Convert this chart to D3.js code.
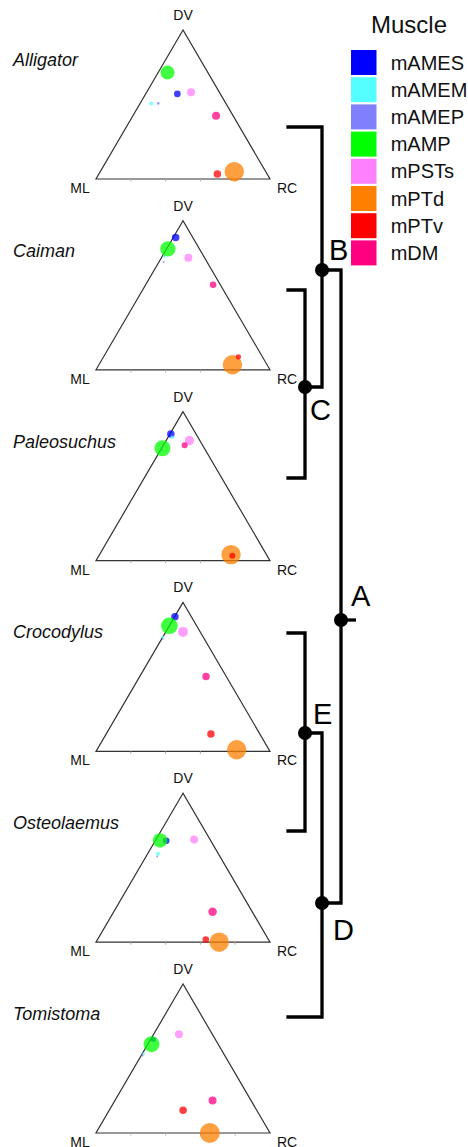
<!DOCTYPE html>
<html>
<head>
<meta charset="utf-8">
<script src="https://cdn.jsdelivr.net/npm/d3@7"></script>
<style>
  html, body { margin: 0; padding: 0; background: #fff; }
  svg { display: block; font-family: "Liberation Sans", Arial, sans-serif; }
</style>
</head>
<body>
<svg id="chart" width="468" height="1147"></svg>
<script>
// ---- Data ---------------------------------------------------------------
const species = ["Alligator", "Caiman", "Paleosuchus", "Crocodylus", "Osteolaemus", "Tomistoma"];
const muscles = ["mAMES", "mAMEM", "mAMEP", "mAMP", "mPSTs", "mPTd", "mPTv", "mDM"];
const axisNames = ["DV", "ML", "RC"];

// Share of each muscle's orientation along the dorsoventral axis (per species, muscle order)
const dvShare = [
  [0.571, 0.507, 0.507, 0.714, 0.583, 0.049, 0.033, 0.424],
  [0.888, 0.761, 0.723, 0.812, 0.752, 0.034, 0.087, 0.570],
  [0.850, 0.828, 0.740, 0.754, 0.806, 0.040, 0.033, 0.775],
  [0.903, 0.766, 0.755, 0.843, 0.802, 0.011, 0.117, 0.503],
  [0.681, 0.593, 0.575, 0.683, 0.690, 0.000, 0.018, 0.204],
  [0.629, 0.533, 0.520, 0.596, 0.663, 0.000, 0.153, 0.218]
];
// ... along the mediolateral axis
const mlShare = [
  [0.247, 0.429, 0.389, 0.232, 0.162, 0.181, 0.286, 0.098],
  [0.098, 0.227, 0.250, 0.181, 0.093, 0.199, 0.138, 0.042],
  [0.145, 0.148, 0.250, 0.241, 0.060, 0.204, 0.200, 0.103],
  [0.095, 0.233, 0.240, 0.157, 0.099, 0.186, 0.281, 0.116],
  [0.256, 0.348, 0.361, 0.290, 0.091, 0.292, 0.360, 0.228],
  [0.356, 0.459, 0.472, 0.383, 0.192, 0.346, 0.423, 0.221]
];
// ... along the rostrocaudal axis
const rcShare = [
  [0.182, 0.064, 0.104, 0.054, 0.255, 0.770, 0.681, 0.478],
  [0.014, 0.012, 0.027, 0.007, 0.155, 0.767, 0.775, 0.388],
  [0.005, 0.024, 0.010, 0.005, 0.134, 0.756, 0.767, 0.122],
  [0.002, 0.001, 0.005, 0.000, 0.099, 0.803, 0.602, 0.381],
  [0.063, 0.059, 0.064, 0.027, 0.219, 0.708, 0.622, 0.568],
  [0.015, 0.008, 0.008, 0.021, 0.145, 0.654, 0.424, 0.561]
];
// Relative muscle size (percent of largest)
const relSize = [
  [11, 4, 2, 49, 16, 94, 14, 16],
  [14, 2, 1, 59, 16, 94, 7, 11],
  [14, 3, 1, 64, 22, 94, 9, 9],
  [14, 2, 1, 69, 25, 94, 14, 14],
  [11, 4, 1, 53, 16, 94, 11, 18],
  [7, 2, 1, 64, 16, 100, 14, 16]
];
const baseTicks = [0.2, 0.4, 0.6, 0.8];

// Phylogeny of the sampled taxa with clade labels
const cladeLabels = ["A", "B", "C", "D", "E"];
const phylogeny = {
  name: "A", children: [
    { name: "B", children: [
      { name: "Alligator" },
      { name: "C", children: [{ name: "Caiman" }, { name: "Paleosuchus" }] }
    ]},
    { name: "D", children: [
      { name: "E", children: [{ name: "Crocodylus" }, { name: "Osteolaemus" }] },
      { name: "Tomistoma" }
    ]}
  ]
};

// ---- Layout -------------------------------------------------------------
const svg = d3.select("#chart");
const triLeft = 96, triRight = 270, triH = 149;
const colorScale = d3.scaleOrdinal()
  .domain(muscles)
  .range(["#0000ff", "#55ffff", "#8080ff", "#00ff00", "#ff80ff", "#ff8000", "#ff0000", "#ff0080"]);
const rScale = d3.scaleSqrt().domain([0, 100]).range([0, 10]);
const panelY = d3.scaleLinear().domain([0, species.length - 1]).range([30, 984]);
const xScale = d3.scaleLinear().domain([0, 1]).range([triLeft, triRight]);
const yScale = d3.scaleLinear().domain([0, 1]).range([triH, 0]);

// ---- Ternary panels -----------------------------------------------------
species.forEach((sp, si) => {
  const g = svg.append("g").attr("transform", `translate(0,${panelY(si)})`);
  const apex = [xScale(0.5), yScale(1)], left = [xScale(0), yScale(0)], right = [xScale(1), yScale(0)];

  g.append("path")
    .attr("d", d3.line()([apex, left, right, apex]) + "Z")
    .attr("fill", "none").attr("stroke", "#333").attr("stroke-width", 1.2)
    .attr("stroke-linejoin", "miter");

  g.selectAll("line.tick").data(baseTicks).join("line")
    .attr("class", "tick")
    .attr("x1", d => xScale(d)).attr("x2", d => xScale(d))
    .attr("y1", yScale(0)).attr("y2", yScale(0) + 2.5)
    .attr("stroke", "#aaa").attr("stroke-width", 1);

  g.append("text").text(axisNames[0])
    .attr("x", apex[0]).attr("y", apex[1] - 10)
    .attr("text-anchor", "middle").attr("font-size", 14).attr("fill", "#111");
  g.append("text").text(axisNames[1])
    .attr("x", left[0] - 16).attr("y", left[1] + 14)
    .attr("text-anchor", "middle").attr("font-size", 14).attr("fill", "#111");
  g.append("text").text(axisNames[2])
    .attr("x", right[0] + 17).attr("y", right[1] + 14)
    .attr("text-anchor", "middle").attr("font-size", 14).attr("fill", "#111");

  g.append("text").text(sp)
    .attr("x", 13).attr("y", 36)
    .attr("font-size", 18).attr("font-style", "italic").attr("fill", "#111");

  const pts = muscles.map((m, mi) => ({
    muscle: m, dv: dvShare[si][mi], ml: mlShare[si][mi], rc: rcShare[si][mi], size: relSize[si][mi]
  }));
  g.selectAll("circle.pt").data(pts).join("circle")
    .attr("class", "pt")
    .attr("cx", d => xScale(d.rc + d.dv / 2))
    .attr("cy", d => yScale(d.dv))
    .attr("r", d => rScale(d.size))
    .attr("fill", d => colorScale(d.muscle))
    .attr("fill-opacity", 0.75);
});

// ---- Legend -------------------------------------------------------------
const legend = svg.append("g");
legend.append("text").text("Muscle")
  .attr("x", 409).attr("y", 33).attr("text-anchor", "middle")
  .attr("font-size", 24).attr("fill", "#111");
const rows = legend.selectAll("g.row").data(muscles).join("g")
  .attr("class", "row")
  .attr("transform", (d, i) => `translate(351,${50 + i * 27.2})`);
rows.append("rect").attr("width", 25.5).attr("height", 25).attr("fill", d => colorScale(d));
rows.append("text").text(d => d)
  .attr("x", 39.7).attr("y", 19.7).attr("font-size", 20).attr("fill", "#111");

// ---- Phylogeny ----------------------------------------------------------
const nodeX = { A: 341, B: 322, C: 305, D: 322, E: 305,
  Alligator: 288, Caiman: 288, Paleosuchus: 288, Crocodylus: 288, Osteolaemus: 288, Tomistoma: 288 };
const nodeY = { A: 620, B: 270, C: 387, D: 903, E: 733,
  Alligator: 127, Caiman: 290, Paleosuchus: 478, Crocodylus: 633, Osteolaemus: 831, Tomistoma: 1017 };
const labelOffset = { A: [10, -14], B: [7, -10], C: [5, 33], D: [11, 37], E: [8, -9] };

const root = d3.hierarchy(phylogeny);
root.each(n => { n.x = nodeX[n.data.name]; n.y = nodeY[n.data.name]; });

const tree = svg.append("g");
tree.selectAll("path.link").data(root.links()).join("path")
  .attr("class", "link")
  .attr("d", l => `M${l.target.x},${l.target.y}H${l.source.x}V${l.source.y}`)
  .attr("fill", "none").attr("stroke", "#000").attr("stroke-width", 3.3)
  .attr("stroke-linecap", "square").attr("stroke-linejoin", "miter");
tree.append("path")
  .attr("d", `M${root.x},${root.y}H${root.x + 15}`)
  .attr("stroke", "#000").attr("stroke-width", 3.3);

const internal = root.descendants().filter(n => cladeLabels.includes(n.data.name));
tree.selectAll("circle.node").data(internal).join("circle")
  .attr("class", "node")
  .attr("cx", n => n.x).attr("cy", n => n.y).attr("r", 7).attr("fill", "#000");
tree.selectAll("text.clade").data(internal).join("text")
  .attr("class", "clade")
  .text(n => n.data.name)
  .attr("x", n => n.x + labelOffset[n.data.name][0])
  .attr("y", n => n.y + labelOffset[n.data.name][1])
  .attr("font-size", 29).attr("fill", "#000");
</script>
</body>
</html>
